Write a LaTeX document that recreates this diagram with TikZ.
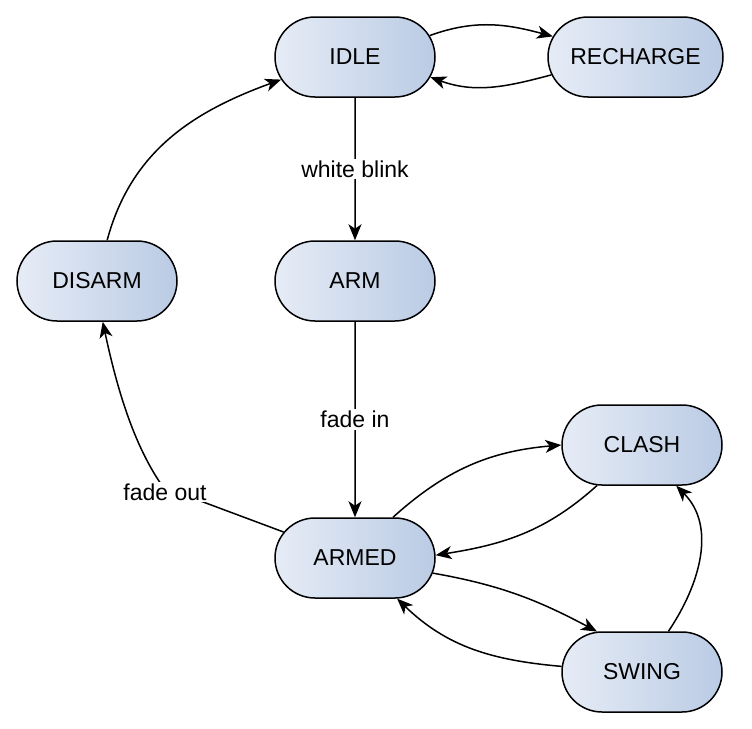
\documentclass[tikz,border=0pt]{standalone}
\usepackage{fontspec}
\setmainfont{Liberation Sans}
\usetikzlibrary{shapes.misc,arrows.meta}
\definecolor{sLeft}{HTML}{E6ECF6}
\definecolor{sRight}{HTML}{BACBE4}
\begin{document}
\begin{tikzpicture}[x=1pt,y=1pt,
  state/.style={rounded rectangle, draw=black, line width=1.5pt, minimum width=160pt, minimum height=80pt,
    left color=sLeft, right color=sRight, font=\fontsize{23}{27}\selectfont, inner sep=0pt},
  conn/.style={line width=1.5pt, -{Stealth[length=16pt,width=13pt,inset=4.5pt]}},
  lbl/.style={fill=white, inner sep=2pt, font=\fontsize{23}{27}\selectfont}]
\useasboundingbox (0,0) rectangle (752,-728);
\node[state] (idle) at (355,-57) {IDLE};
\node[state, minimum width=175pt] (rech) at (635.5,-57) {RECHARGE};
\node[state] (disarm) at (97,-281) {DISARM};
\node[state] (arm) at (355,-281) {ARM};
\node[state] (clash) at (642,-445) {CLASH};
\node[state] (armed) at (355,-558) {ARMED};
\node[state] (swing) at (642,-672) {SWING};

\draw[conn] (idle.16) to[out=20,in=165] (rech.166);
\draw[conn] (rech.192) to[out=195,in=340] (idle.345);
\draw[conn] (idle) -- node[lbl] (wb) {white blink} (arm);
\draw[conn] (arm) -- node[lbl] (fi) {fade in} (armed);
\coordinate (fo) at (163,-487);
\draw[conn] (armed.160) -- (fo) .. controls +(125:45) and +(282:80) .. (disarm.278);
\node[lbl] (folbl) at (165,-492) {fade out};
\draw[conn] (disarm.76) to[out=75,in=200] (idle.197);
\draw[conn] (armed.47) to[out=42,in=185] (clash.west);
\draw[conn] (clash.222) to[out=222,in=9] (armed.2);
\draw[conn] (armed.349) to[out=-10,in=152] (swing.138);
\draw[conn] (swing.176) to[out=175,in=316] (armed.316);
\draw[conn] (swing.57) to[out=56,in=315] (clash.310);
\end{tikzpicture}
\end{document}
